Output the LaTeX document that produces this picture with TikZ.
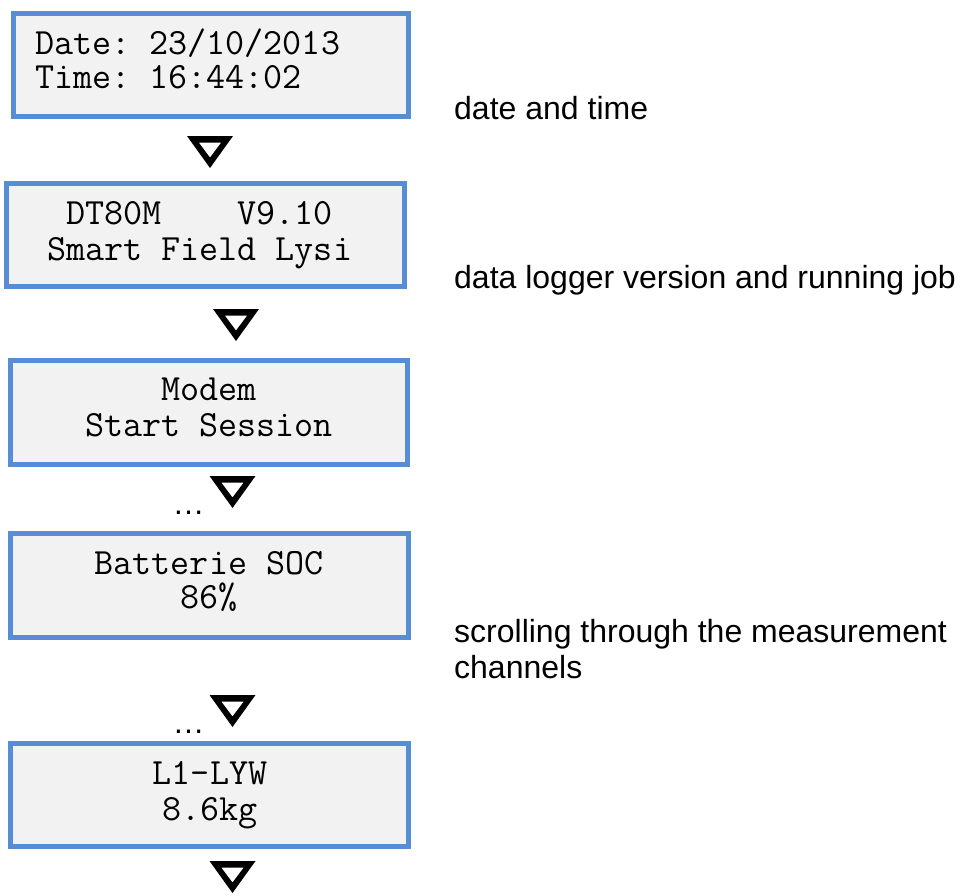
\documentclass[tikz,border=0pt]{standalone}
\usepackage{fontspec}
\setmainfont{Liberation Sans}
\definecolor{lcdblue}{RGB}{86,141,213}
\definecolor{lcdfill}{RGB}{242,242,242}
\begin{document}
\begin{tikzpicture}[x=1pt,y=-1pt,
  lcd/.style={draw=lcdblue,fill=lcdfill,line width=5pt,inner sep=0pt,minimum width=398pt,minimum height=103pt},
  mono/.style={inner sep=0pt,text height=22pt,text depth=4pt,font=\ttfamily\fontsize{37}{37}\selectfont},
  monotwo/.style={inner sep=0pt,align=left,font=\ttfamily\fontsize{37}{34}\selectfont},
  sans/.style={inner sep=0pt,anchor=base west,font=\fontsize{32}{36}\selectfont},
  dots/.style={inner sep=0pt,anchor=base,font=\fontsize{32}{36}\selectfont},
  downtri/.pic={\fill[black,even odd rule] (-23,0) -- (23,0) -- (0,32) -- cycle
      (-11.3,6.5) -- (11.3,6.5) -- (0,21.5) -- cycle;}
]
\useasboundingbox (0,0) rectangle (960,895);
% boxes
\node[lcd,minimum width=395pt] (b1) at (211,65) {};
\node[lcd] (b2) at (205.5,235) {};
\node[lcd,minimum width=397pt,minimum height=104pt] (b3) at (209,412.5) {};
\node[lcd,minimum height=104pt] (b4) at (209.5,585.5) {};
\node[lcd] (b5) at (209.5,795) {};
% box texts
\node[monotwo,anchor=base west] (t1) at (35,88) {Date:\ 23/10/2013\\Time:\ 16:44:02};
\node[mono,anchor=base west] (t2a) at (47,224) {\ DT80M\ \ \ \ V9.10};
\node[mono,anchor=base west] (t2b) at (47,260) {Smart\ Field\ Lysi};
\node[mono,anchor=base] (t3a) at (209,400) {Modem};
\node[mono,anchor=base] (t3b) at (209,436) {Start\ Session};
\node[mono,anchor=base] (t4a) at (209,574) {Batterie\ SOC};
\node[mono,anchor=base] (t4b) at (209,608) {86\%};
\node[mono,anchor=base] (t5a) at (210,784) {L1-LYW};
\node[mono,anchor=base] (t5b) at (210,820) {8.6kg};
% triangles
\pic (a1) at (210,136) {downtri};
\pic (a2) at (236,309) {downtri};
\pic (a3) at (232.5,476) {downtri};
\pic (a4) at (232.5,695) {downtri};
\pic (a5) at (232.5,861) {downtri};
% ellipses
\node[dots] (d1) at (188.5,514) {…};
\node[dots] (d2) at (188.5,733) {…};
% labels
\node[sans] (l1) at (454,119) {date and time};
\node[sans] (l2) at (454,288) {data logger version and running job};
\node[sans] (l3a) at (454,642) {scrolling through the measurement};
\node[sans] (l3b) at (454,678) {channels};
\end{tikzpicture}
\end{document}
